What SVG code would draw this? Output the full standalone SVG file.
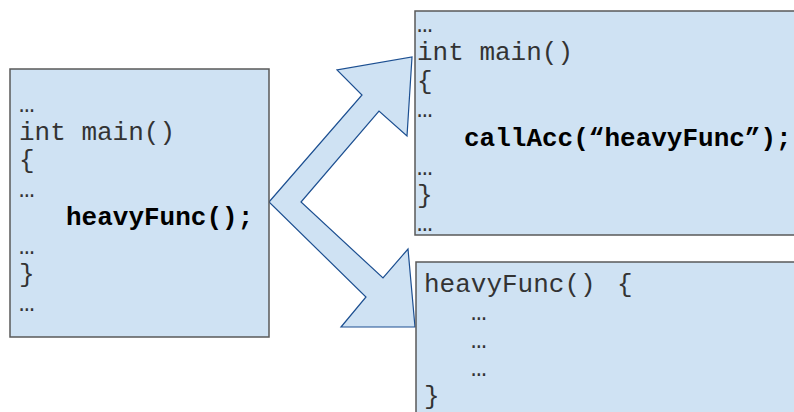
<svg xmlns="http://www.w3.org/2000/svg" width="794" height="412" viewBox="0 0 794 412">
<style>
.box{fill:#cfe2f3;stroke:#595959;stroke-width:1.5}
.arrow{fill:#cfe2f3;stroke:#1c4f91;stroke-width:1.2;stroke-linejoin:miter}
text{font-family:"Liberation Mono","Courier New",monospace;font-size:26px;fill:#333;white-space:pre}
.b{font-weight:bold;fill:#000}
</style>
<rect width="794" height="412" fill="#fff"/>
<g id="connectors">
<polygon class="arrow" points="269,202 362,95 337,70 412,57 407,136 379,111 301,202 383,278 408,249 415,327 341,327 366,297"/>
</g>
<g id="main-original">
<rect class="box" x="10" y="69" width="259" height="268"/>
<text x="19" y="112">…<tspan x="19" y="140">int main()</tspan><tspan x="19" y="168">{</tspan><tspan x="19" y="197">…</tspan><tspan x="66" y="225" class="b">heavyFunc();</tspan><tspan x="19" y="254">…</tspan><tspan x="19" y="282">}</tspan><tspan x="19" y="311">…</tspan></text>
</g>
<g id="main-accelerated">
<rect class="box" x="415" y="11" width="390" height="224"/>
<text x="417" y="32">…<tspan x="417" y="60">int main()</tspan><tspan x="417" y="89">{</tspan><tspan x="417" y="117">…</tspan><tspan x="464" y="146" class="b">callAcc(“heavyFunc”);</tspan><tspan x="417" y="175">…</tspan><tspan x="417" y="203">}</tspan><tspan x="417" y="231">…</tspan></text>
</g>
<g id="heavyfunc-def">
<rect class="box" x="416" y="262" width="390" height="160"/>
<text x="424" y="292">heavyFunc()<tspan x="617" y="292">{</tspan><tspan x="471" y="320">…</tspan><tspan x="471" y="348">…</tspan><tspan x="471" y="376">…</tspan><tspan x="424" y="404">}</tspan></text>
</g>
</svg>
